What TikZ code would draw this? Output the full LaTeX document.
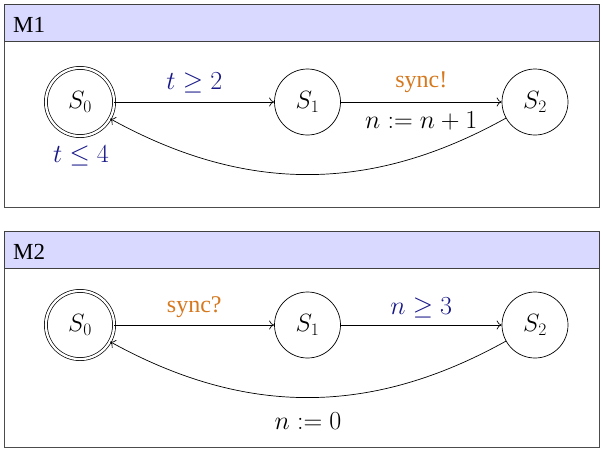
\documentclass[tikz,border=0pt]{standalone}
\usepackage{fix-cm}
\usepackage{fontspec}
\setmainfont{Liberation Serif}
\usetikzlibrary{arrows.meta}
\definecolor{hdr}{RGB}{217,217,255}
\definecolor{grd}{RGB}{22,22,135}
\definecolor{syn}{RGB}{214,120,30}
\begin{document}
\begin{tikzpicture}[x=1pt,y=-1pt,
  state/.style={circle,draw,line width=0.7pt,minimum size=66pt,inner sep=0pt,font=\fontsize{25}{30}\selectfont},
  accept/.style={state,double,double distance=2.3pt,minimum size=68.2pt},
  edge/.style={line width=0.7pt,-{To[length=5pt,width=9pt]}},
  lab/.style={font=\fontsize{26}{30}\selectfont,inner sep=0pt},
  txt/.style={font=\fontsize{24}{28}\selectfont,inner sep=0pt},
  header/.style={fill=hdr,draw=black!75,line width=0.8pt},
  panel/.style={draw=black!70,line width=0.8pt}]
\useasboundingbox (0,0) rectangle (602,451);
% Panel M1
\draw[panel] (4,41) rectangle (599,207);
\draw[header] (4,4) rectangle (599,41);
\node[anchor=base west,font=\fontsize{23}{27}\selectfont,inner sep=0pt] (m1) at (13,32) {M1};
\node[accept] (a0) at (80,102) {$S_0$};
\node[state] (a1) at (307.5,102) {$S_1$};
\node[state] (a2) at (535,102) {$S_2$};
\draw[edge] (a0) -- node[lab,text=grd,pos=0.5,yshift=19pt] (g1) {$t \geq 2$} (a1);
\draw[edge] (a1) -- node[txt,text=syn,pos=0.5,yshift=20pt] (s1) {sync!}
                  node[lab,pos=0.5,yshift=-19pt] (u1) {$n := n+1$} (a2);
\draw[edge] (a2) to[bend left=29] (a0);
\node[lab,text=grd] (i1) at (81,156) {$t \leq 4$};
% Panel M2
\draw[panel] (4,268) rectangle (599,447);
\draw[header] (4,231) rectangle (599,268);
\node[anchor=base west,font=\fontsize{23}{27}\selectfont,inner sep=0pt] (m2) at (13,259) {M2};
\node[accept] (b0) at (80,325) {$S_0$};
\node[state] (b1) at (307.5,325) {$S_1$};
\node[state] (b2) at (535,325) {$S_2$};
\draw[edge] (b0) -- node[txt,text=syn,pos=0.5,yshift=18pt] (s2) {sync?} (b1);
\draw[edge] (b1) -- node[lab,text=grd,pos=0.5,yshift=17pt] (g2) {$n \geq 3$} (b2);
\draw[edge] (b2) to[bend left=29] node[lab,pos=0.5,yshift=-24pt] (u2) {$n := 0$} (b0);
\end{tikzpicture}
\end{document}
